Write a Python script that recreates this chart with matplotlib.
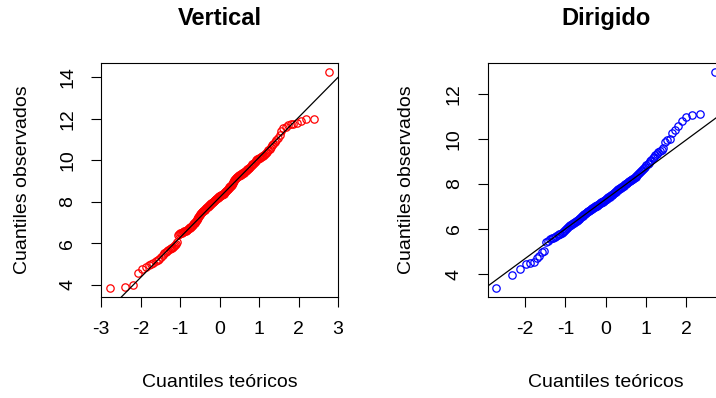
"""Normal Q-Q plots of the two treatment groups, drawn in the style of R's qqnorm/qqline."""

from statistics import NormalDist

import matplotlib
matplotlib.use("Agg")
import matplotlib.pyplot as plt
import numpy as np

plt.rcParams["font.family"] = ["Liberation Sans", "DejaVu Sans"]

# sorted observations of each group
vertical = [
    3.84, 3.88, 4.01, 4.58, 4.77, 4.85, 4.98, 5.02, 5.08, 5.13,
    5.18, 5.25, 5.33, 5.42, 5.55, 5.60, 5.63, 5.68, 5.72, 5.76,
    5.80, 5.84, 5.88, 5.92, 5.98, 6.05, 6.40, 6.45, 6.48, 6.50,
    6.52, 6.54, 6.56, 6.58, 6.60, 6.62, 6.64, 6.66, 6.69, 6.72,
    6.75, 6.78, 6.81, 6.84, 6.88, 6.92, 6.96, 7.00, 7.04, 7.08,
    7.12, 7.16, 7.20, 7.25, 7.30, 7.36, 7.42, 7.46, 7.49, 7.52,
    7.55, 7.58, 7.61, 7.63, 7.66, 7.68, 7.70, 7.73, 7.75, 7.78,
    7.80, 7.83, 7.86, 7.88, 7.91, 7.93, 7.96, 7.98, 8.00, 8.02,
    8.05, 8.07, 8.10, 8.12, 8.14, 8.17, 8.19, 8.22, 8.24, 8.27,
    8.28, 8.29, 8.31, 8.32, 8.34, 8.36, 8.38, 8.40, 8.42, 8.45,
    8.48, 8.51, 8.54, 8.57, 8.60, 8.63, 8.66, 8.69, 8.72, 8.75,
    8.78, 8.82, 8.86, 8.90, 8.95, 9.00, 9.05, 9.10, 9.14, 9.17,
    9.19, 9.21, 9.23, 9.25, 9.27, 9.29, 9.31, 9.33, 9.35, 9.37,
    9.39, 9.41, 9.44, 9.47, 9.50, 9.53, 9.56, 9.59, 9.62, 9.65,
    9.68, 9.72, 9.76, 9.80, 9.84, 9.88, 9.92, 9.96, 10.00, 10.04,
    10.07, 10.10, 10.13, 10.16, 10.19, 10.22, 10.26, 10.30, 10.36, 10.42,
    10.48, 10.55, 10.62, 10.72, 10.80, 10.88, 10.95, 11.05, 11.20, 11.40,
    11.55, 11.62, 11.68, 11.72, 11.76, 11.80, 11.90, 11.96, 11.98, 14.26,
]

dirigido = [
    3.37, 3.97, 4.24, 4.47, 4.50, 4.53, 4.72, 4.80, 4.98, 5.02,
    5.44, 5.49, 5.54, 5.58, 5.62, 5.66, 5.70, 5.73, 5.76, 5.80,
    5.84, 5.88, 5.92, 5.96, 6.00, 6.04, 6.08, 6.12, 6.16, 6.19,
    6.22, 6.25, 6.28, 6.31, 6.34, 6.37, 6.40, 6.43, 6.46, 6.49,
    6.53, 6.56, 6.59, 6.62, 6.65, 6.68, 6.71, 6.74, 6.77, 6.80,
    6.82, 6.84, 6.86, 6.88, 6.90, 6.92, 6.94, 6.96, 6.98, 7.00,
    7.02, 7.04, 7.06, 7.08, 7.10, 7.12, 7.14, 7.16, 7.18, 7.20,
    7.22, 7.24, 7.26, 7.28, 7.30, 7.33, 7.35, 7.37, 7.40, 7.42,
    7.44, 7.46, 7.49, 7.51, 7.53, 7.55, 7.58, 7.60, 7.63, 7.66,
    7.68, 7.71, 7.73, 7.76, 7.78, 7.81, 7.83, 7.86, 7.88, 7.91,
    7.93, 7.96, 7.98, 8.01, 8.03, 8.06, 8.08, 8.11, 8.14, 8.16,
    8.18, 8.20, 8.22, 8.25, 8.29, 8.33, 8.37, 8.41, 8.45, 8.49,
    8.53, 8.57, 8.62, 8.67, 8.72, 8.77, 8.83, 8.89, 8.95, 9.01,
    9.07, 9.14, 9.20, 9.27, 9.34, 9.40, 9.46, 9.52, 9.60, 9.88,
    9.96, 10.00, 10.28, 10.40, 10.55, 10.78, 10.98, 11.08, 11.12, 12.98,
]

titles = ["Vertical", "Dirigido"]
colors = ["#FF0000", "#0000FF"]
xticks = [[-3, -2, -1, 0, 1, 2, 3], [-2, -1, 0, 1, 2]]
yticks = [[4, 6, 8, 10, 12, 14], [4, 6, 8, 10, 12]]

# panel boxes in figure fractions: left, bottom, width, height
panel_boxes = [
    [0.1411, 0.2538, 0.3310, 0.5879],
    [0.6811, 0.2538, 0.3300, 0.5879],
]
ylabel_x = [-0.333, -0.342]


def theoretical_quantiles(n):
    # ppoints(n): a = 3/8 for n <= 10, otherwise 1/2
    a = 0.375 if n <= 10 else 0.5
    dist = NormalDist()
    return np.array([dist.inv_cdf((i + 1 - a) / (n + 1 - 2 * a)) for i in range(n)])


def padded(lo, hi, frac=0.04):
    span = hi - lo
    return lo - frac * span, hi + frac * span


fig = plt.figure(figsize=(7.16, 3.98), dpi=100)

for k, sample in enumerate([vertical, dirigido]):
    y = np.sort(np.asarray(sample, dtype=float))
    x = theoretical_quantiles(len(y))
    ax = fig.add_axes(panel_boxes[k])

    ax.plot(x, y, linestyle="none", marker="o", markersize=5.3,
            markerfacecolor="none", markeredgecolor=colors[k], markeredgewidth=0.9)

    # reference line through the first and third quartiles
    q_obs = np.percentile(y, [25, 75])
    q_th = np.array([NormalDist().inv_cdf(0.25), NormalDist().inv_cdf(0.75)])
    slope = (q_obs[1] - q_obs[0]) / (q_th[1] - q_th[0])
    intercept = q_obs[0] - slope * q_th[0]
    ax.axline((0, intercept), slope=slope, color="black", linewidth=0.9)

    ax.set_xlim(*padded(x.min(), x.max()))
    ax.set_ylim(*padded(y.min(), y.max()))
    ax.set_xticks(xticks[k])
    ax.set_yticks(yticks[k])
    ax.set_xticklabels([str(t) for t in xticks[k]])
    ax.set_yticklabels([str(t) for t in yticks[k]], rotation=90, va="center")
    ax.tick_params(direction="out", length=7.5, width=0.8, labelsize=14, colors="black")
    ax.tick_params(axis="x", pad=10)
    ax.tick_params(axis="y", pad=10.5)
    for spine in ax.spines.values():
        spine.set_linewidth(0.8)

    ax.set_xlabel("Cuantiles teóricos", fontsize=14)
    ax.xaxis.set_label_coords(0.5, -0.3675)
    ax.xaxis.label.set_va("center")
    ax.set_ylabel("Cuantiles observados", fontsize=14)
    ax.yaxis.set_label_coords(ylabel_x[k], 0.5)
    ax.yaxis.label.set_va("center")

    ax.text(0.5, 1.19, titles[k], transform=ax.transAxes, ha="center", va="center",
            fontsize=17, fontweight="bold")

fig.savefig("out.png", dpi=100)
